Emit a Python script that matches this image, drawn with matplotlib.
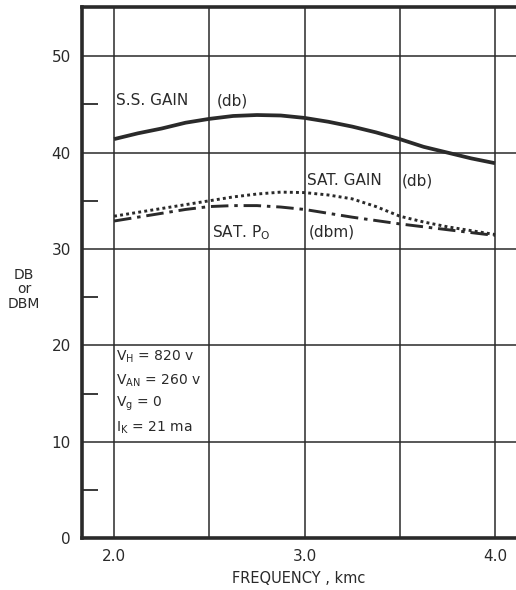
import matplotlib
matplotlib.use("Agg")
import matplotlib.pyplot as plt

# frequency, kmc
freq = [2.0, 2.125, 2.25, 2.375, 2.5, 2.625, 2.75, 2.875, 3.0,
        3.125, 3.25, 3.375, 3.5, 3.625, 3.75, 3.875, 4.0]
ss_gain = [41.4, 42.0, 42.5, 43.1, 43.5, 43.8, 43.9, 43.85, 43.6,
           43.2, 42.7, 42.1, 41.4, 40.6, 40.0, 39.4, 38.9]
sat_gain = [33.4, 33.8, 34.2, 34.6, 35.0, 35.4, 35.7, 35.9, 35.85,
            35.6, 35.2, 34.4, 33.4, 32.8, 32.3, 31.9, 31.5]
sat_po = [32.9, 33.3, 33.7, 34.1, 34.4, 34.5, 34.5, 34.35, 34.1,
          33.7, 33.3, 32.95, 32.6, 32.3, 32.0, 31.7, 31.4]

x_ticks = [2.0, 2.5, 3.0, 3.5, 4.0]
x_labels = ["2.0", "", "3.0", "", "4.0"]
y_ticks = [0, 10, 20, 30, 40, 50]
y_minor = [5, 15, 25, 35, 45]

ink = "#2a2a2a"
plt.rcParams["font.family"] = "DejaVu Sans"

fig = plt.figure(figsize=(5.16, 5.90), dpi=100)
ax = fig.add_axes([0.159, 0.088, 0.841, 0.900])

ax.plot(freq, ss_gain, color=ink, lw=2.7, solid_capstyle="butt")
ax.plot(freq, sat_gain, color=ink, lw=2.1, linestyle=(0, (1, 1.1)))
ax.plot(freq, sat_po, color=ink, lw=2.1, linestyle=(0, (6, 2, 1.2, 2)))

ax.set_xlim(1.832, 4.11)
ax.set_ylim(0, 55.1)

ax.set_xticks(x_ticks)
ax.set_xticklabels(x_labels)
ax.set_yticks(y_ticks)
ax.set_yticks(y_minor, minor=True)
ax.grid(True, which="major", color=ink, lw=1.1)
ax.tick_params(which="major", length=0, labelsize=11, colors=ink, pad=8)
ax.tick_params(axis="y", which="minor", direction="in", length=11.5, width=1.3, color=ink)
ax.set_axisbelow(True)

for side in ["left", "bottom", "top"]:
    ax.spines[side].set_linewidth(2.6)
    ax.spines[side].set_color(ink)
ax.spines["right"].set_visible(False)

ax.set_xlabel("FREQUENCY , kmc", fontsize=10.5, color=ink, labelpad=5)
fig.text(0.047, 0.51, "DB\nor\nDBM", ha="center", va="center", fontsize=10,
         color=ink, linespacing=1.05)

lab = dict(fontsize=11, color=ink)
ax.text(2.01, 44.9, "S.S. GAIN", **lab)
ax.text(2.54, 44.9, "(db)", **lab)
ax.text(3.013, 36.6, "SAT. GAIN", **lab)
ax.text(3.51, 36.6, "(db)", **lab)
ax.text(2.513, 31.25, "SAT. P$_\\mathrm{O}$", **lab)
ax.text(3.02, 31.25, "(dbm)", **lab)

cond = ["V$_\\mathrm{H}$ = 820 v", "V$_\\mathrm{AN}$ = 260 v",
        "V$_\\mathrm{g}$ = 0", "I$_\\mathrm{K}$ = 21 ma"]
for i, line in enumerate(cond):
    ax.text(2.012, 18.8 - i * 2.45, line, fontsize=10, color=ink, va="center")

fig.savefig("out.png", dpi=100)
